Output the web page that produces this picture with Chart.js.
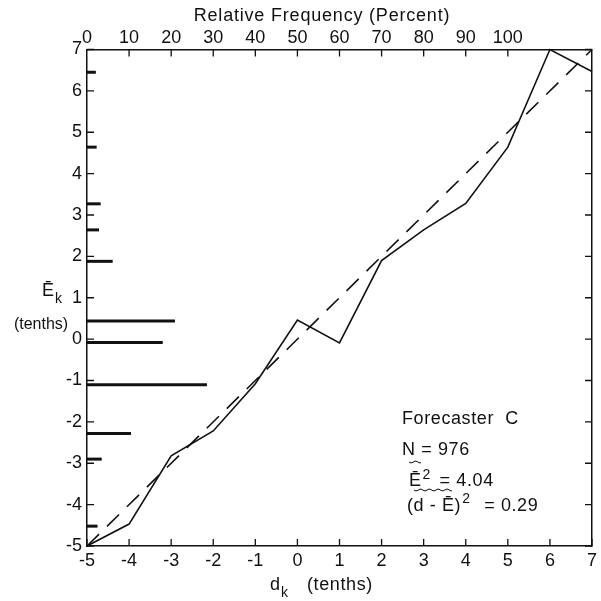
<!DOCTYPE html>
<html><head><meta charset="utf-8">
<script src="https://cdn.jsdelivr.net/npm/chart.js@4/dist/chart.umd.min.js"></script>
<style>html,body{margin:0;padding:0;background:#fff}canvas{display:block}</style>
</head><body>
<canvas id="c" width="601" height="601"></canvas>
<script>
// ---- data ----
const forecastCategories = [-5, -4, -3, -2, -1, 0, 1, 2, 3, 4, 5, 6, 7];          // d_k (tenths)
const meanObserved       = [-5, -4.47, -2.82, -2.22, -1.08, 0.46, -0.09, 1.90, 2.64, 3.28, 4.64, 7.0, 6.47]; // E_k
const perfectLine        = [-5, 7];                                                 // diagonal d = E
const histLevels         = [6.45, 4.64, 3.27, 2.64, 1.88, 0.44, -0.08, -1.10, -2.28, -2.90, -4.52];
const histPercent        = [2.1, 2.3, 3.25, 2.85, 6.1, 20.9, 18.0, 28.5, 10.45, 3.5, 2.5];
const dTickLabels        = ['-5','-4','-3','-2','-1','0','1','2','3','4','5','6','7'];
const eTickLabels        = ['-5','-4','-3','-2','-1','0','1','2','3','4','5','6','7'];
const pctTickLabels      = ['0','10','20','30','40','50','60','70','80','90','100'];
const topTitle           = 'Relative Frequency (Percent)';
const statsTitle         = 'Forecaster  C';
const statsN             = 'N = 976';
const statsE2            = ['Ē', '2', ' = 4.04'];
const statsMSE           = ['(d - Ē)', '2', ' = 0.29'];

const FONT = '"Liberation Sans", Arial, sans-serif';
const INK = '#111';

const datasets = [
  {
    label: 'Ek', data: forecastCategories.map((d, i) => ({x: d, y: meanObserved[i]})),
    xAxisID: 'x', yAxisID: 'y', borderColor: INK, borderWidth: 1.6,
    pointRadius: 0, tension: 0, clip: false, fill: false
  },
  {
    label: 'diag', data: perfectLine.map(v => ({x: v, y: v})),
    xAxisID: 'x', yAxisID: 'y', borderColor: INK, borderWidth: 1.6,
    borderDash: [17, 11], pointRadius: 0, clip: false, fill: false
  }
];
histLevels.forEach((e, i) => {
  datasets.push({
    label: 'h' + i, data: [{x: 0, y: e}, {x: histPercent[i], y: e}],
    xAxisID: 'x2', yAxisID: 'y', borderColor: INK, borderWidth: 3,
    borderCapStyle: 'butt', pointRadius: 0, clip: false, fill: false
  });
});

const innerTicks = {
  id: 'innerTicks',
  afterDraw(chart) {
    const {ctx, chartArea: a, scales} = chart;
    ctx.save();
    ctx.strokeStyle = INK; ctx.lineWidth = 1.3;
    ctx.beginPath();
    scales.y.ticks.forEach(t => {
      const py = scales.y.getPixelForValue(t.value);
      ctx.moveTo(a.left, py); ctx.lineTo(a.left + 7, py);
      ctx.moveTo(a.right, py); ctx.lineTo(a.right - 7, py);
    });
    scales.x.ticks.forEach(t => {
      const px = scales.x.getPixelForValue(t.value);
      ctx.moveTo(px, a.bottom); ctx.lineTo(px, a.bottom - 7);
    });
    scales.x2.ticks.forEach(t => {
      if (t.value <= 0 || t.value > 100) return;
      const px = scales.x2.getPixelForValue(t.value);
      ctx.moveTo(px, a.top); ctx.lineTo(px, a.top + 7);
    });
    ctx.stroke();

    ctx.fillStyle = INK;
    ctx.textBaseline = 'alphabetic';
    // top title
    ctx.font = '18px ' + FONT;
    ctx.textAlign = 'center';
    ctx.letterSpacing = '0.8px';
    ctx.fillText(topTitle, 322, 21);
    ctx.letterSpacing = '0px';
    // bottom: d_k (tenths)
    ctx.textAlign = 'left';
    ctx.font = '18px ' + FONT;
    ctx.fillText('d', 270, 590);
    ctx.font = '14px ' + FONT;
    ctx.fillText('k', 281, 597);
    ctx.font = '18px ' + FONT;
    ctx.letterSpacing = '0.6px';
    ctx.fillText('(tenths)', 307, 590);
    ctx.letterSpacing = '0px';
    // left: E_k (tenths)
    ctx.font = '18px ' + FONT;
    ctx.fillText('Ē', 42, 296);
    ctx.font = '14px ' + FONT;
    ctx.fillText('k', 55, 303);
    ctx.font = '16px ' + FONT;
    ctx.textAlign = 'center';
    ctx.fillText('(tenths)', 41, 329);

    // stats annotation
    ctx.textAlign = 'left';
    ctx.font = '18px ' + FONT;
    ctx.letterSpacing = '0.6px';
    ctx.fillText(statsTitle, 402, 424);
    ctx.fillText(statsN, 402, 455);
    let x = 409;
    ctx.fillText(statsE2[0], x, 486); x += ctx.measureText(statsE2[0]).width + 1;
    ctx.font = '14px ' + FONT; ctx.fillText(statsE2[1], x, 479); x += ctx.measureText(statsE2[1]).width + 3;
    ctx.font = '18px ' + FONT; ctx.fillText(statsE2[2], x, 486);
    x = 407;
    ctx.fillText(statsMSE[0], x, 511); x += ctx.measureText(statsMSE[0]).width + 1;
    ctx.font = '14px ' + FONT; ctx.fillText(statsMSE[1], x, 503); x += ctx.measureText(statsMSE[1]).width + 8;
    ctx.font = '18px ' + FONT; ctx.fillText(statsMSE[2], x, 511);
    ctx.letterSpacing = '0px';
    // wavy overlines
    const wavy = (x0, x1, y) => {
      ctx.beginPath(); ctx.lineWidth = 1;
      for (let xx = x0; xx <= x1; xx += 1) {
        const yy = y + Math.sin((xx - x0) / 1.4) * 0.9;
        if (xx === x0) ctx.moveTo(xx, yy); else ctx.lineTo(xx, yy);
      }
      ctx.stroke();
    };
    wavy(409, 421, 462);
    wavy(414, 452, 490);
    ctx.restore();
  }
};

new Chart(document.getElementById('c'), {
  type: 'line',
  data: {datasets},
  options: {
    responsive: false, animation: false, devicePixelRatio: 1,
    layout: {padding: {left: 0, right: 0, top: 0, bottom: 0}},
    plugins: {legend: {display: false}, tooltip: {enabled: false}},
    scales: {
      x: {
        type: 'linear', position: 'bottom', min: -5, max: 7,
        afterFit: s => { s.height = 55; },
        grid: {display: false, drawTicks: false},
        border: {display: true, color: INK, width: 1.5},
        ticks: {stepSize: 1, padding: 4, color: INK, font: {family: FONT, size: 18},
                callback: (v) => dTickLabels[forecastCategories.indexOf(v)] ?? ''}
      },
      x2: {
        type: 'linear', position: 'top', min: 0, max: 120,
        afterFit: s => { s.height = 49.5; },
        grid: {display: false, drawTicks: false},
        border: {display: true, color: INK, width: 1.5},
        ticks: {stepSize: 10, padding: 1, color: INK, font: {family: FONT, size: 18}, maxRotation: 0, autoSkip: false,
                callback: (v) => (v <= 100 ? pctTickLabels[v / 10] : '')}
      },
      y: {
        type: 'linear', position: 'left', min: -5, max: 7,
        afterFit: s => { s.width = 87; },
        grid: {display: false, drawTicks: false},
        border: {display: true, color: INK, width: 1.5},
        ticks: {stepSize: 1, padding: 5, color: INK, font: {family: FONT, size: 18},
                callback: (v) => eTickLabels[forecastCategories.indexOf(v)] ?? ''}
      },
      y2: {
        type: 'linear', position: 'right', min: -5, max: 7,
        afterFit: s => { s.width = 9; },
        grid: {display: false, drawTicks: false},
        border: {display: true, color: INK, width: 1.5},
        ticks: {display: false}
      }
    }
  },
  plugins: [innerTicks]
});
</script>
</body></html>
